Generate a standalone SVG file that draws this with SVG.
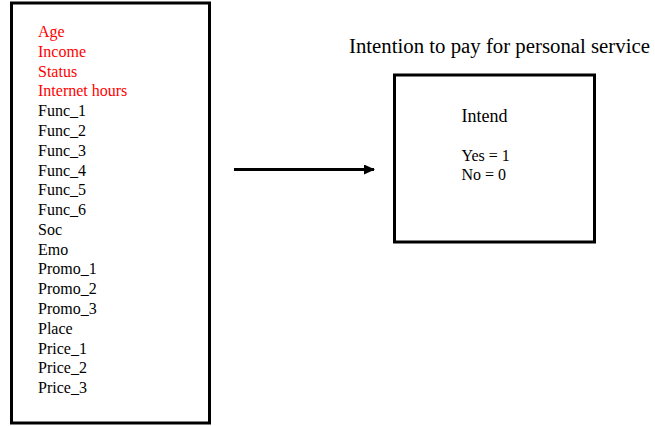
<svg xmlns="http://www.w3.org/2000/svg" width="655" height="426" viewBox="0 0 655 426">
<defs>
<marker id="ah" markerWidth="11" markerHeight="10" refX="10" refY="5" orient="auto" markerUnits="userSpaceOnUse">
<path d="M0,0 L11,5 L0,10 Z" fill="#000"/>
</marker>
<style>
.box{fill:#fff;stroke:#000;stroke-width:3}
.t{font-family:"Liberation Serif","Times New Roman",serif;font-size:16px;fill:#000}
.r{fill:#ff0000}
</style>
</defs>
<rect width="655" height="426" fill="#fff"/>
<g id="predictors">
<rect class="box" x="11.5" y="3" width="198" height="420"/>
<text class="t r" x="38" y="37">Age</text>
<text class="t r" x="38" y="56.8">Income</text>
<text class="t r" x="38" y="76.6">Status</text>
<text class="t r" x="38" y="96.4">Internet hours</text>
<text class="t" x="38" y="116.1">Func_1</text>
<text class="t" x="38" y="135.9">Func_2</text>
<text class="t" x="38" y="155.7">Func_3</text>
<text class="t" x="38" y="175.5">Func_4</text>
<text class="t" x="38" y="195.2">Func_5</text>
<text class="t" x="38" y="215">Func_6</text>
<text class="t" x="38" y="234.8">Soc</text>
<text class="t" x="38" y="254.6">Emo</text>
<text class="t" x="38" y="274.4">Promo_1</text>
<text class="t" x="38" y="294.1">Promo_2</text>
<text class="t" x="38" y="313.9">Promo_3</text>
<text class="t" x="38" y="333.7">Place</text>
<text class="t" x="38" y="353.5">Price_1</text>
<text class="t" x="38" y="373.2">Price_2</text>
<text class="t" x="38" y="393">Price_3</text>
</g>
<g id="connectors">
<line x1="234" y1="169.5" x2="374" y2="169.5" stroke="#000" stroke-width="2.8" marker-end="url(#ah)"/>
</g>
<g id="outcome">
<text class="t" x="349" y="53" style="font-size:20.8px">Intention to pay for personal service</text>
<rect class="box" x="394.5" y="75" width="200" height="167"/>
<text class="t" x="461.5" y="121.5" style="font-size:18px">Intend</text>
<text class="t" x="461.5" y="160.5">Yes = 1</text>
<text class="t" x="461.5" y="180">No = 0</text>
</g>
</svg>
